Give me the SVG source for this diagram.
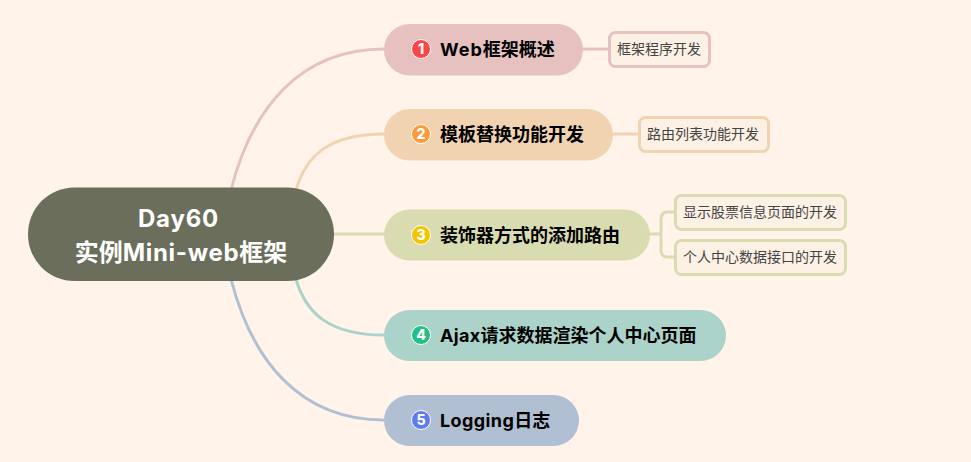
<svg xmlns="http://www.w3.org/2000/svg" width="971" height="462" viewBox="0 0 971 462">
<style>
.c{fill:none;stroke-width:3;stroke-linecap:round}
.t{font-family:"Inter","Noto Sans CJK SC",sans-serif;font-weight:700;font-size:18px;fill:#000}
.r{font-family:"Inter","Noto Sans CJK SC",sans-serif;font-weight:700;font-size:24px;fill:#fff;text-anchor:middle}
.s{font-family:"Noto Sans CJK SC","Noto Sans",sans-serif;font-size:14px;fill:#444}
.n{font-family:"Inter","Noto Sans",sans-serif;font-weight:800;font-size:14px;fill:#fff;text-anchor:middle}
.i{stroke:#fff;stroke-width:1}
.b{fill:#fdf0e4;stroke-width:3}
</style>
<rect width="971" height="462" fill="#fff3ea"/>
<g id="connectors">
<path class="c" stroke="#e6c1c0" d="M231 190C252 108 300 49 384 49"/>
<path class="c" stroke="#f1d3b2" d="M296 190C306 155 330 134 384 134"/>
<path class="c" stroke="#d9dbb0" d="M334 234H384"/>
<path class="c" stroke="#abd3c9" d="M296 279C306 314 330 335 384 335"/>
<path class="c" stroke="#b0bfd1" d="M231 279C252 361 300 420 384 420"/>
<path class="c" stroke="#e6c1c0" d="M583 49H609"/>
<path class="c" stroke="#f1d3b2" d="M613 134H639"/>
<path class="c" stroke="#d9dbb0" d="M650 234H661M675 212H668Q661 212 661 219V250Q661 257 668 257H675"/>
</g>
<g id="root">
<rect x="28" y="187.500" width="306" height="93.500" rx="46.500" fill="#6b6e5b"/>
<text class="r" x="178.500" y="227" letter-spacing=".8">Day60</text>
<text class="r" x="181" y="261"><tspan>实例</tspan><tspan letter-spacing=".7">Mini-web</tspan><tspan>框架</tspan></text>
</g>
<g id="node1">
<rect x="384" y="24" width="199" height="51.500" rx="25.700" fill="#e6c1c0"/>
<circle class="i" cx="421" cy="49" r="9.500" fill="#f9464b"/>
<text class="n" x="421" y="54">1</text>
<text class="t" x="440" y="55.500"><tspan letter-spacing="1">Web</tspan>框架概述</text>
</g>
<g id="node2">
<rect x="384" y="109" width="229" height="51.500" rx="25.700" fill="#f1d3b2"/>
<circle class="i" cx="421" cy="134" r="9.500" fill="#fb9a3c"/>
<text class="n" x="421" y="139">2</text>
<text class="t" x="440" y="140.500">模板替换功能开发</text>
</g>
<g id="node3">
<rect x="384" y="209.500" width="266" height="51" rx="25.500" fill="#d9dbb0"/>
<circle class="i" cx="421" cy="235" r="9.500" fill="#f2c500"/>
<text class="n" x="421" y="240">3</text>
<text class="t" x="440" y="241.500">装饰器方式的添加路由</text>
</g>
<g id="node4">
<rect x="384" y="310" width="342" height="51" rx="25.500" fill="#abd3c9"/>
<circle class="i" cx="421" cy="335" r="9.500" fill="#23bf85"/>
<text class="n" x="421" y="340">4</text>
<text class="t" x="440" y="341.500"><tspan letter-spacing=".3">Ajax</tspan>请求数据渲染个人中心页面</text>
</g>
<g id="node5">
<rect x="384" y="395" width="195" height="51" rx="25.500" fill="#b0bfd1"/>
<circle class="i" cx="421" cy="420" r="9.500" fill="#5c7cf0"/>
<text class="n" x="421" y="425">5</text>
<text class="t" x="440" y="426.500"><tspan letter-spacing=".4">Logging</tspan>日志</text>
</g>
<g id="sub1">
<rect class="b" x="609.500" y="32.500" width="100" height="34" rx="6" stroke="#e6c1c0"/>
<text class="s" x="617" y="53.500">框架程序开发</text>
</g>
<g id="sub2">
<rect class="b" x="639.500" y="117.500" width="129" height="34" rx="6" stroke="#f1d3b2"/>
<text class="s" x="647" y="138.500">路由列表功能开发</text>
</g>
<g id="sub3">
<rect class="b" x="675.500" y="195.500" width="170" height="34" rx="6" stroke="#d9dbb0"/>
<text class="s" x="683" y="216.500">显示股票信息页面的开发</text>
</g>
<g id="sub4">
<rect class="b" x="675.500" y="240.500" width="170" height="34" rx="6" stroke="#d9dbb0"/>
<text class="s" x="683" y="261.500">个人中心数据接口的开发</text>
</g>
</svg>
